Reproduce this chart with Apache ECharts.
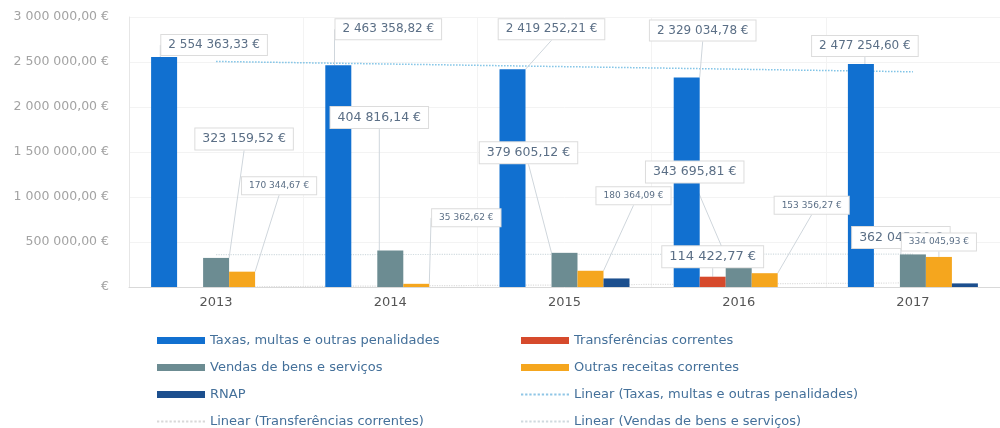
<!DOCTYPE html>
<html><head><meta charset="utf-8">
<script src="https://cdn.jsdelivr.net/npm/echarts@6/dist/echarts.min.js"></script>
<style>html,body{margin:0;padding:0;background:#fff}#c{width:1000px;height:428px}</style>
</head><body><div id="c"></div>
<script>
const years = ['2013','2014','2015','2016','2017'];
const taxas = [2554363.33, 2463358.82, 2419252.21, 2329034.78, 2477254.60];
const transferencias = [null, null, null, 114422.77, null];
const vendas = [323159.52, 404816.14, 379605.12, 343695.81, 362045.00];
const outras = [170344.67, 35362.62, 180364.09, 153356.27, 334045.93];
const rnap = [null, null, 95000, null, 40000];
const trendTaxas = [2506000, null, null, null, 2391000];
const trendTransf = [0, null, null, null, 45800];
const trendVendas = [359300, null, null, null, 366000];

// label offsets (px) from bar top-centre, per series
const labelOffsets = {
  'Taxas, multas e outras penalidades': [[50,-12],[50,-36],[39,-40],[16,-47],[4,-18]],
  'Vendas de bens e serviços': [[28,-119],[-11,-133],[-36,-100],[-44,-84],[-12,-17]],
  'Outras receitas correntes': [[37,-86],[50,-66],[43,-75],[47,-68],[0,-15]],
  'Transferências correntes': [[0,0],[0,0],[0,0],[0,-20],[0,0]]
};

function fmt(v){
  const s = Math.abs(v).toFixed(2).split('.');
  const int = s[0].replace(/\B(?=(\d{3})+(?!\d))/g, ' ');
  return int + ',' + s[1] + ' €';
}
const FONT = '"DejaVu Sans", "Open Sans", sans-serif';
function lbl(size){
  return {show:true, position:'top', formatter: p => p.value==null ? '' : fmt(p.value),
    color:'#5b6f86', fontSize:size, fontFamily:FONT, backgroundColor:'#fff',
    borderColor:'#dcdcdc', borderWidth:1, padding:[4,7], align:'center', verticalAlign:'middle'};
}
function layout(name){
  return function(p){
    const off = labelOffsets[name][p.dataIndex];
    return {x: p.rect.x + p.rect.width/2 + off[0], y: p.rect.y + off[1], align:'center', verticalAlign:'middle'};
  };
}
const labelLine = {show:true, lineStyle:{color:'#cfd6dc', width:1}};

function barSeries(name, data, color, size, withLabel){
  const s = {name, type:'bar', data, barWidth:26, barGap:'0%', itemStyle:{color}};
  if(withLabel){ s.label = lbl(size); s.labelLayout = layout(name); s.labelLine = labelLine; }
  return s;
}
const legendText = {color:'#44709a', fontSize:13, fontFamily:FONT};
let dotPath = 'path://';
for (let i = 0; i < 12; i++) dotPath += 'M' + (i*4) + ',0h2.2v2h-2.2z';
function legBar(name, left, row){
  return {left, top:334 + 27*row, padding:0, itemWidth:48, itemHeight:7, itemGap:8, textStyle:legendText,
    data:[{name, icon:'rect'}]};
}
function legLine(name, left, row, color){
  return {left, top:334 + 27*row, padding:0, itemWidth:48, itemHeight:2, symbolKeepAspect:false,
    textStyle:legendText, data:[{name, icon:dotPath, itemStyle:{color, opacity:1}}]};
}

const chart = echarts.init(document.getElementById('c'));
chart.setOption({
  animation:false,
  grid:{left:129, right:-4, top:17, bottom:141, containLabel:false},
  xAxis:{type:'category', data:years,
    axisLine:{lineStyle:{color:'#d9d9d9'}}, axisTick:{show:false},
    axisLabel:{color:'#555', fontSize:13, fontFamily:FONT, margin:9},
    splitLine:{show:true, lineStyle:{color:'#f3f3f3'}}},
  yAxis:{type:'value', min:0, max:3000000, interval:500000,
    axisLine:{show:true, lineStyle:{color:'#e6e6e6'}},
    axisLabel:{color:'#a3a3a3', fontSize:12.5, fontFamily:FONT, margin:20,
      formatter: v => v===0 ? '€' : fmt(v)},
    splitLine:{lineStyle:{color:'#f3f3f3'}}},
  legend:[
    legBar('Taxas, multas e outras penalidades', 157, 0),
    legBar('Vendas de bens e serviços', 157, 1),
    legBar('RNAP', 157, 2),
    legLine('Linear (Transferências correntes)', 157, 3, '#d8d8d8'),
    legBar('Transferências correntes', 521, 0),
    legBar('Outras receitas correntes', 521, 1),
    legLine('Linear (Taxas, multas e outras penalidades)', 521, 2, '#8fc6e6'),
    legLine('Linear (Vendas de bens e serviços)', 521, 3, '#cfd9de')
  ],
  series:[
    barSeries('Taxas, multas e outras penalidades', taxas, '#1170d0', 12, true),
    barSeries('Transferências correntes', transferencias, '#d64a2c', 13, true),
    barSeries('Vendas de bens e serviços', vendas, '#6c8c92', 12.5, true),
    barSeries('Outras receitas correntes', outras, '#f5a61e', 9, true),
    barSeries('RNAP', rnap, '#1c4f8e', 10, false),
    {name:'Linear (Taxas, multas e outras penalidades)', type:'line', data:trendTaxas, connectNulls:true,
     symbol:'none', lineStyle:{color:'#7fc3e6', width:1.5, type:'dotted'}, z:1},
    {name:'Linear (Transferências correntes)', type:'line', data:trendTransf, connectNulls:true,
     symbol:'none', lineStyle:{color:'#dddddd', width:1.2, type:'dotted'}, z:1},
    {name:'Linear (Vendas de bens e serviços)', type:'line', data:trendVendas, connectNulls:true,
     symbol:'none', lineStyle:{color:'#d2dce0', width:1.2, type:'dotted'}, z:1}
  ]
});
</script></body></html>
